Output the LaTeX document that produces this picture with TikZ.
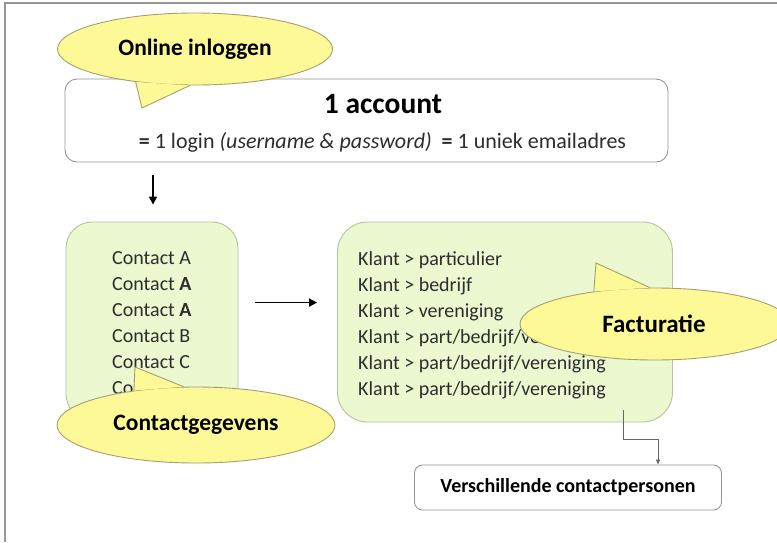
\documentclass[tikz,border=0pt]{standalone}
\usepackage{fontspec}
\setmainfont{Carlito}
\usetikzlibrary{shapes.geometric,arrows.meta}
\definecolor{bubblefill}{RGB}{252,249,150}
\definecolor{bubbleline}{RGB}{165,160,110}
\definecolor{greenfill}{RGB}{235,248,208}
\definecolor{greenline}{RGB}{178,196,160}
\definecolor{boxline}{RGB}{150,150,150}
\definecolor{framegray}{RGB}{150,150,150}
\definecolor{txt}{RGB}{45,45,45}
\tikzset{
  whitebox/.style={draw=boxline, line width=0.9pt, fill=white, inner sep=0pt},
  greenbox/.style={draw=greenline, line width=0.9pt, fill=greenfill, inner sep=0pt, rounded corners=26pt},
  bubble/.style={ellipse, draw=bubbleline, line width=0.9pt, fill=bubblefill, inner sep=0pt,
     font=\fontsize{23.5}{28}\selectfont\bfseries, text=black},
  tailfill/.style={fill=bubblefill},
  tailline/.style={draw=bubbleline, line width=0.9pt, line join=miter},
  listtext/.style={anchor=base west, inner sep=0pt, font=\fontsize{20}{24}\selectfont, text=txt},
  bigarrow/.style={line width=1.8pt, -{Triangle[length=8pt,width=8pt]}},
  thinarrow/.style={draw=black!60, line width=0.8pt, -{Triangle[length=5pt,width=4pt]}},
}
\begin{document}
\begin{tikzpicture}[x=1pt,y=-1pt]
\useasboundingbox (0,0) rectangle (777,542);
\clip (0,0) rectangle (777,542);
\fill[white] (0,0) rectangle (777,542);
\draw[framegray, line width=1.2pt] (777,3) -- (5,3) -- (5,542);

% top box
\node[whitebox, rounded corners=12pt, minimum width=603pt, minimum height=83pt] (account) at (366.5,120.5) {};
\node[inner sep=0pt, font=\fontsize{29.5}{34}\selectfont\bfseries] (title) at (383,104) {1 account};
\node[inner sep=0pt, font=\fontsize{22}{26}\selectfont, text=txt] (login) at (382.5,142)
  {\textbf{=} 1 login \textit{(username \& password)}\ \ \textbf{=} 1 uniek emailadres};

\node[bubble, minimum width=275pt, minimum height=72pt] (online) at (195,49) {Online inloggen};
\coordinate (onlinetip) at (142,108);
\path[tailfill] (online.209.3) -- (onlinetip) -- (online.262) -- cycle;
\draw[tailline] (online.209.3) -- (onlinetip) -- (online.262);

% left green box
\node[greenbox, minimum width=172pt, minimum height=198pt] (contactbox) at (152,321) {};
\node[listtext] (c1) at (112,264) {Contact A};
\node[listtext] (c2) at (112,290) {Contact \textbf{A}};
\node[listtext] (c3) at (112,316) {Contact \textbf{A}};
\node[listtext] (c4) at (112,342) {Contact B};
\node[listtext] (c5) at (112,368) {Contact C};
\node[listtext] (c6) at (112,394) {Co};

\node[bubble, minimum width=278pt, minimum height=76pt] (contactgeg) at (196,425) {Contactgegevens};
\coordinate (contacttip) at (135,367);
\path[tailfill] (contactgeg.151.6) -- (contacttip) -- (contactgeg.108.9) -- cycle;
\draw[tailline] (contactgeg.151.6) -- (contacttip) -- (contactgeg.108.9);

% right green box
\node[greenbox, rounded corners=30pt, minimum width=335pt, minimum height=200pt] (klantbox) at (505,322) {};
\node[listtext] (k1) at (358,265) {Klant > particulier};
\node[listtext] (k2) at (358,291) {Klant > bedrijf};
\node[listtext] (k3) at (358,317) {Klant > vereniging};
\node[listtext] (k4) at (358,343) {Klant > part/bedrijf/vereniging};
\node[listtext] (k5) at (358,369) {Klant > part/bedrijf/vereniging};
\node[listtext] (k6) at (358,395) {Klant > part/bedrijf/vereniging};

\node[bubble, minimum width=270pt, minimum height=72pt] (factuur) at (655,324) {};
\node[inner sep=0pt, font=\fontsize{25}{30}\selectfont\bfseries] (factuurtext) at (654,324) {Facturatie};
\coordinate (factuurtip) at (596,263);
\path[tailfill] (factuur.152) -- (factuurtip) -- (factuur.98) -- cycle;
\draw[tailline] (factuur.152) -- (factuurtip) -- (factuur.98);

% bottom box
\node[whitebox, rounded corners=8pt, minimum width=307pt, minimum height=45pt,
  font=\fontsize{20}{24}\selectfont\bfseries] (verschil) at (568,487.5) {Verschillende contactpersonen};

% connectors
\coordinate (downx) at (153,0);
\draw[bigarrow, shorten <=13pt, shorten >=17pt] (account.south -| downx) -- (contactbox.north -| downx);
\draw[bigarrow, shorten <=17pt, shorten >=20pt] (contactbox.east |- c3) ++(0,-7) coordinate (hstart) -- (klantbox.west |- hstart);
\coordinate (fstart) at (623,410);
\draw[thinarrow] (fstart) -- ++(0,29) -| ([xshift=90pt]verschil.north);
\end{tikzpicture}
\end{document}
